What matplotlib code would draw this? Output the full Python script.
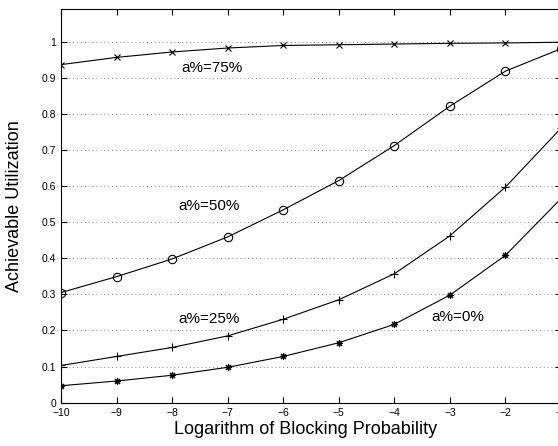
import numpy as np
import matplotlib
matplotlib.use('Agg')
import matplotlib.pyplot as plt

# log10 of blocking probability
log_pb = [-10, -9, -8, -7, -6, -5, -4, -3, -2, -1]

# achievable utilization for each share a%
util_75 = [0.936, 0.956, 0.971, 0.982, 0.989, 0.991, 0.993, 0.995, 0.996, 0.998]
util_50 = [0.305, 0.349, 0.398, 0.459, 0.534, 0.615, 0.712, 0.821, 0.918, 0.980]
util_25 = [0.103, 0.128, 0.153, 0.185, 0.231, 0.285, 0.357, 0.462, 0.597, 0.760]
util_0 = [0.047, 0.060, 0.076, 0.098, 0.128, 0.166, 0.217, 0.298, 0.408, 0.565]

labels = ['a%=75%', 'a%=50%', 'a%=25%', 'a%=0%']
label_pos = [(-7.28, 0.928), (-7.34, 0.545), (-7.34, 0.231), (-2.86, 0.238)]

yticks = [0, 0.1, 0.2, 0.3, 0.4, 0.5, 0.6, 0.7, 0.8, 0.9, 1]
ytick_labels = ['0', '0.1', '0.2', '0.3', '0.4', '0.5', '0.6', '0.7', '0.8', '0.9', '1']

plt.rcParams['font.family'] = ['Liberation Sans', 'DejaVu Sans']

fig = plt.figure(figsize=(5.58, 4.46), dpi=100)
# the original is cropped: x=-1 sits just past the right edge
ax = fig.add_axes([61 / 558, 43.3 / 446, 500 / 558, 393.7 / 446])

ax.plot(log_pb, util_75, 'k-', marker='x', ms=4, mew=0.8, lw=0.8)
ax.plot(log_pb, util_50, 'k-', marker='o', ms=6, mfc='none', mew=0.8, lw=0.8)
ax.plot(log_pb, util_25, 'k-', marker='+', ms=6, mew=0.8, lw=0.8)
ax.plot(log_pb, util_0, 'k-', marker=(8, 2, 0), ms=5, mew=0.8, lw=0.8)

for txt, (x, y) in zip(labels, label_pos):
    ax.text(x, y, txt, fontsize=11, ha='center', va='center')

ax.set_xlim(-10, -1)
ax.set_ylim(0, 1.09)
ax.set_xticks(log_pb)
ax.set_yticks(yticks)
ax.set_yticklabels(ytick_labels)
ax.tick_params(direction='in', top=True, right=True, labelsize=7.5, length=4, width=0.8)
ax.yaxis.grid(True, linestyle=(0, (1, 3)), color='#888888', lw=0.7)
for s in ax.spines.values():
    s.set_linewidth(0.8)

ax.set_xlabel('Logarithm of Blocking Probability', fontsize=13, va='center')
ax.set_ylabel('Achievable Utilization', fontsize=13, va='center')
ax.xaxis.set_label_coords(0.49, -0.069)
ax.yaxis.set_label_coords(-0.092, 0.5)

fig.savefig('out.png', dpi=100)
